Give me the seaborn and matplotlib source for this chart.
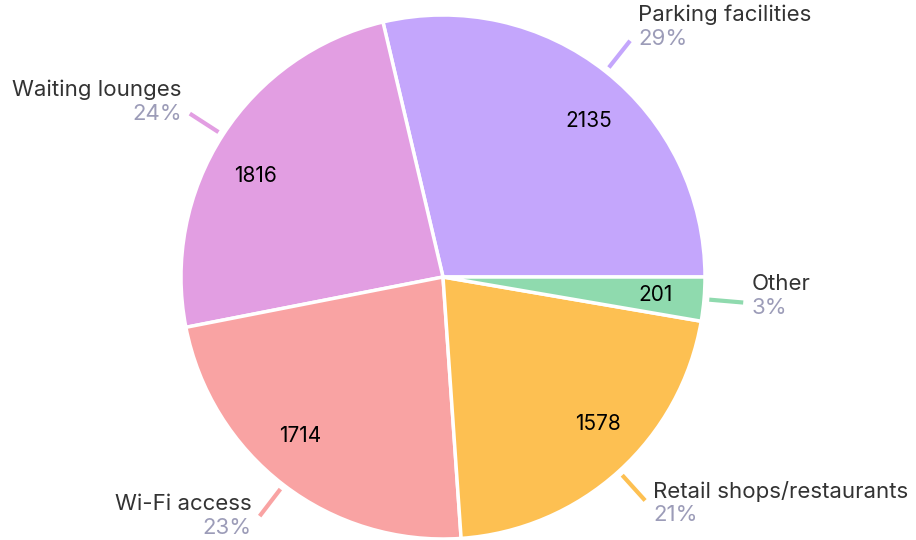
import numpy as np
import matplotlib.pyplot as plt
import seaborn as sns

categories = ['Parking facilities', 'Waiting lounges', 'Wi-Fi access',
              'Retail shops/restaurants', 'Other']
values = [2135, 1816, 1714, 1578, 201]
colors = ['#c4a6fc', '#e29ee2', '#f9a3a3', '#fdc052', '#8fdaae']

sns.set_theme(style='white')
plt.rcParams['font.family'] = ['Inter', 'DejaVu Sans']

W, H = 916, 540
cx, cy, R = 443, 277, 262  # pixel centre and radius of the pie

fig = plt.figure(figsize=(W / 100, H / 100), dpi=100)
ax = fig.add_axes([0, 0, 1, 1])

wedges, _ = ax.pie(values, colors=colors, startangle=0, counterclock=True,
                   wedgeprops=dict(edgecolor='white', linewidth=2.5))

px = 1 / R
total = sum(values)
for w, name, v, c in zip(wedges, categories, values, colors):
    mid_deg = (w.theta1 + w.theta2) / 2
    ang = np.deg2rad(mid_deg)
    ca, sa = np.cos(ang), np.sin(ang)

    # value inside, nudged a little toward the horizontal
    shift = 0.0
    if abs(sa) > 0.3:
        shift = -4.5 * np.sign(ca * sa)
    ia = np.deg2rad(mid_deg + shift)
    ax.text(0.815 * np.cos(ia), 0.815 * np.sin(ia), str(v), ha='center',
            va='center', fontsize=15, color='black')

    # leader line + outside label
    ax.plot([1.02 * ca, 1.15 * ca], [1.02 * sa, 1.15 * sa], color=c, lw=3,
            solid_capstyle='butt')
    ex, ey = 1.15 * ca, 1.15 * sa
    ha = 'left' if ca >= 0 else 'right'
    dx = 8 * px if ca >= 0 else -8 * px
    mid = ey + (7 + 9 * sa) * px - (3 * px if sa < -0.5 and ca > 0 else 0)
    ax.text(ex + dx, mid + 12 * px, name, ha=ha, va='center', fontsize=16,
            color='#333333')
    ax.text(ex + dx, mid - 12 * px, f'{v / total * 100:.0f}%', ha=ha,
            va='center', fontsize=16, color='#9c9cb8')

ax.set_xlim(-cx * px, (W - cx) * px)
ax.set_ylim(-(H - cy) * px, cy * px)
ax.set_aspect('auto')
ax.axis('off')

fig.savefig('out.png', dpi=100)
